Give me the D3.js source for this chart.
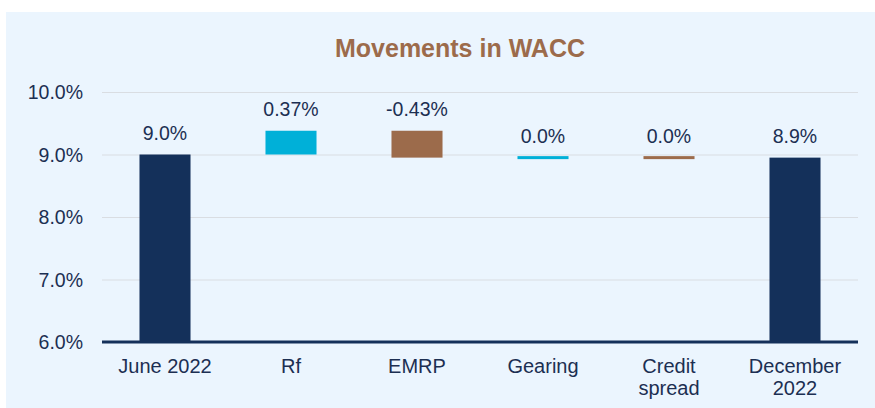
<!DOCTYPE html>
<meta charset="utf-8">
<html>
<head>
<meta charset="utf-8">
<title>Movements in WACC</title>
<style>
  body { margin: 0; background: #fff; }
  svg { display: block; font-family: "Liberation Sans", Arial, sans-serif; }
  .grid line { stroke: #d9dde2; stroke-width: 1px; }
  .tick-label { fill: #1c2f52; font-size: 19.5px; }
  .cat-label { fill: #1c2f52; font-size: 20px; }
  .val-label { fill: #1c2f52; font-size: 19.5px; }
</style>
</head>
<body>
<svg width="875" height="408"></svg>
<script src="https://d3js.org/d3.v7.min.js"></script>
<script>

// chart data
var categories = ["June 2022", "Rf", "EMRP", "Gearing", "Credit spread", "December 2022"];
var startValue = 9.0;
var deltas = [0.38, -0.43, 0.0, 0.0];
var endValue = 8.95;
var valueLabels = ["9.0%", "0.37%", "-0.43%", "0.0%", "0.0%", "8.9%"];
var yTicks = [6, 7, 8, 9, 10];

var navy = "#14305a", cyan = "#00b0d8", brown = "#9c6b4b";

var svg = d3.select("svg"),
    width = +svg.attr("width"),
    height = +svg.attr("height");

// panel background
svg.append("rect")
    .attr("x", 6).attr("y", 12)
    .attr("width", width - 6).attr("height", height - 12)
    .attr("fill", "#ebf5fe");

svg.append("text")
    .attr("x", 460).attr("y", 57)
    .attr("text-anchor", "middle")
    .attr("fill", brown)
    .style("font-size", "25px")
    .style("font-weight", "bold")
    .text("Movements in WACC");

var plotL = 102, plotR = 858, plotT = 92, plotB = 342;

var x = d3.scaleBand().domain(categories).range([plotL, plotR]).padding(0);
var y = d3.scaleLinear().domain([6, 10]).range([plotB, plotT]);
var barW = x.bandwidth() * 0.405;

// build waterfall rows
var rows = [];
rows.push({ cat: categories[0], y0: 6, y1: startValue, color: navy, label: valueLabels[0] });
var running = startValue;
deltas.forEach(function(d, i) {
  var from = running, to = running + d;
  rows.push({ cat: categories[i + 1], y0: Math.min(from, to), y1: Math.max(from, to),
              color: i % 2 === 0 ? cyan : brown, label: valueLabels[i + 1] });
  running = to;
});
rows.push({ cat: categories[5], y0: 6, y1: endValue, color: navy, label: valueLabels[5] });

// gridlines
svg.append("g").attr("class", "grid")
  .selectAll("line")
  .data(yTicks.slice(1))
  .enter().append("line")
    .attr("x1", plotL).attr("x2", plotR)
    .attr("y1", function(d) { return y(d) + 0.5; })
    .attr("y2", function(d) { return y(d) + 0.5; });

svg.append("g")
  .selectAll("text")
  .data(yTicks)
  .enter().append("text")
    .attr("class", "tick-label")
    .attr("x", 83)
    .attr("y", function(d) { return y(d) + 7; })
    .attr("text-anchor", "end")
    .text(function(d) { return d.toFixed(1) + "%"; });

// bars
svg.append("g")
  .selectAll("rect")
  .data(rows)
  .enter().append("rect")
    .attr("x", function(d) { return x(d.cat) + (x.bandwidth() - barW) / 2; })
    .attr("width", barW)
    .attr("y", function(d) {
      var h = y(d.y0) - y(d.y1);
      return h < 3 ? y(d.y1) - 1.5 : y(d.y1);
    })
    .attr("height", function(d) { return Math.max(3, y(d.y0) - y(d.y1)); })
    .attr("fill", function(d) { return d.color; });

// value labels
svg.append("g")
  .selectAll("text")
  .data(rows)
  .enter().append("text")
    .attr("class", "val-label")
    .attr("x", function(d) { return x(d.cat) + x.bandwidth() / 2; })
    .attr("y", function(d) { return y(d.y1) - 15; })
    .attr("text-anchor", "middle")
    .text(function(d) { return d.label; });

// axis line
svg.append("line")
    .attr("x1", plotL).attr("x2", plotR)
    .attr("y1", plotB).attr("y2", plotB)
    .attr("stroke", navy).attr("stroke-width", 3);

// category labels (wrapped)
var catWrap = {
  "Credit spread": ["Credit", "spread"],
  "December 2022": ["December", "2022"]
};
var cat = svg.append("g")
  .selectAll("text")
  .data(categories)
  .enter().append("text")
    .attr("class", "cat-label")
    .attr("text-anchor", "middle")
    .attr("x", function(d) { return x(d) + x.bandwidth() / 2; })
    .attr("y", 373);
cat.each(function(d) {
  var lines = catWrap[d] || [d];
  var t = d3.select(this);
  lines.forEach(function(s, i) {
    t.append("tspan")
      .attr("x", x(d) + x.bandwidth() / 2)
      .attr("dy", i === 0 ? 0 : 22)
      .text(s);
  });
});

</script>
</body>
</html>
